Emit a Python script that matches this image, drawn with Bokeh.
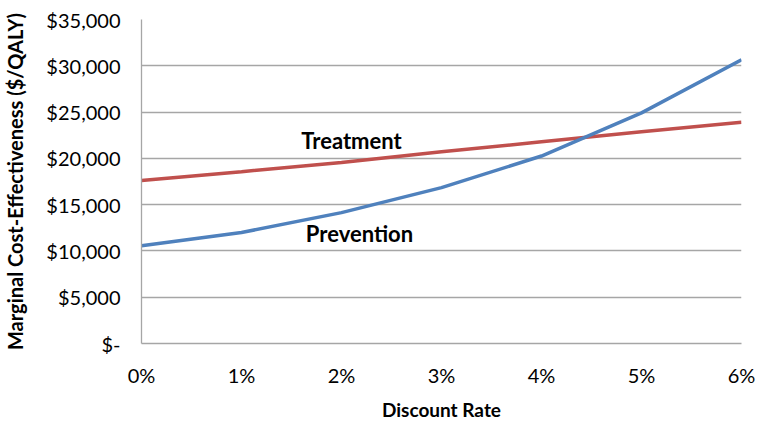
from bokeh.plotting import figure
from bokeh.models import FixedTicker, Range1d
from bokeh.core.properties import value
from bokeh.embed import file_html
from bokeh.resources import INLINE

rates = [0, 1, 2, 3, 4, 5, 6]
rate_labels = ["0%", "1%", "2%", "3%", "4%", "5%", "6%"]
treatment = [17600, 18560, 19560, 20710, 21790, 22870, 23910]
prevention = [10550, 11990, 14140, 16840, 20250, 24910, 30660]
y_ticks = [0, 5000, 10000, 15000, 20000, 25000, 30000, 35000]
y_labels = ["$-", "$5,000", "$10,000", "$15,000", "$20,000", "$25,000", "$30,000", "$35,000"]
series_names = ["Treatment", "Prevention"]
label_x = [2.1, 2.18]
label_y = [21950, 11850]

FONT = "Lato"

p = figure(width=764, height=423, output_backend="svg", toolbar_location=None,
           x_range=Range1d(0, 6), y_range=Range1d(0, 35000),
           min_border_left=137, min_border_right=23, min_border_top=19, min_border_bottom=79)
p.outline_line_color = None
p.background_fill_color = "white"
p.border_fill_color = "white"

p.line(rates, treatment, line_color="#C0504D", line_width=3.5)
p.line(rates, prevention, line_color="#4F81BD", line_width=3.5)

p.text(x=label_x, y=label_y, text=series_names, text_font=value(FONT), text_font_style="bold",
       text_font_size="22px", text_align="center", text_baseline="middle", text_color="black")

p.xgrid.grid_line_color = None
p.ygrid.grid_line_color = "#A6A6A6"
p.ygrid.grid_line_width = 1.3
p.ygrid.ticker = FixedTicker(ticks=y_ticks)

p.xaxis.ticker = FixedTicker(ticks=rates)
p.xaxis.major_label_overrides = {r: l for r, l in zip(rates, rate_labels)}
p.yaxis.ticker = FixedTicker(ticks=y_ticks)
p.yaxis.major_label_overrides = {t: l for t, l in zip(y_ticks, y_labels)}

for ax in (p.xaxis, p.yaxis):
    ax.axis_line_color = "#A6A6A6"
    ax.axis_line_width = 1.3
    ax.major_tick_line_color = None
    ax.minor_tick_line_color = None
    ax.major_label_text_font = FONT
    ax.major_label_text_font_size = "20px"
    ax.major_label_text_color = "black"
    ax.axis_label_text_font = FONT
    ax.axis_label_text_font_style = "bold"
    ax.axis_label_text_color = "black"

p.xaxis.axis_label_text_font_size = "19px"
p.yaxis.axis_label_text_font_size = "20px"
p.xaxis.axis_label = "Discount Rate"
p.yaxis.axis_label = "Marginal Cost-Effectiveness ($/QALY)"
p.xaxis.major_label_standoff = 13
p.yaxis.major_label_standoff = 15
p.xaxis.axis_label_standoff = 8
p.yaxis.axis_label_standoff = 16

open("out.html", "w").write(file_html(p, INLINE))
